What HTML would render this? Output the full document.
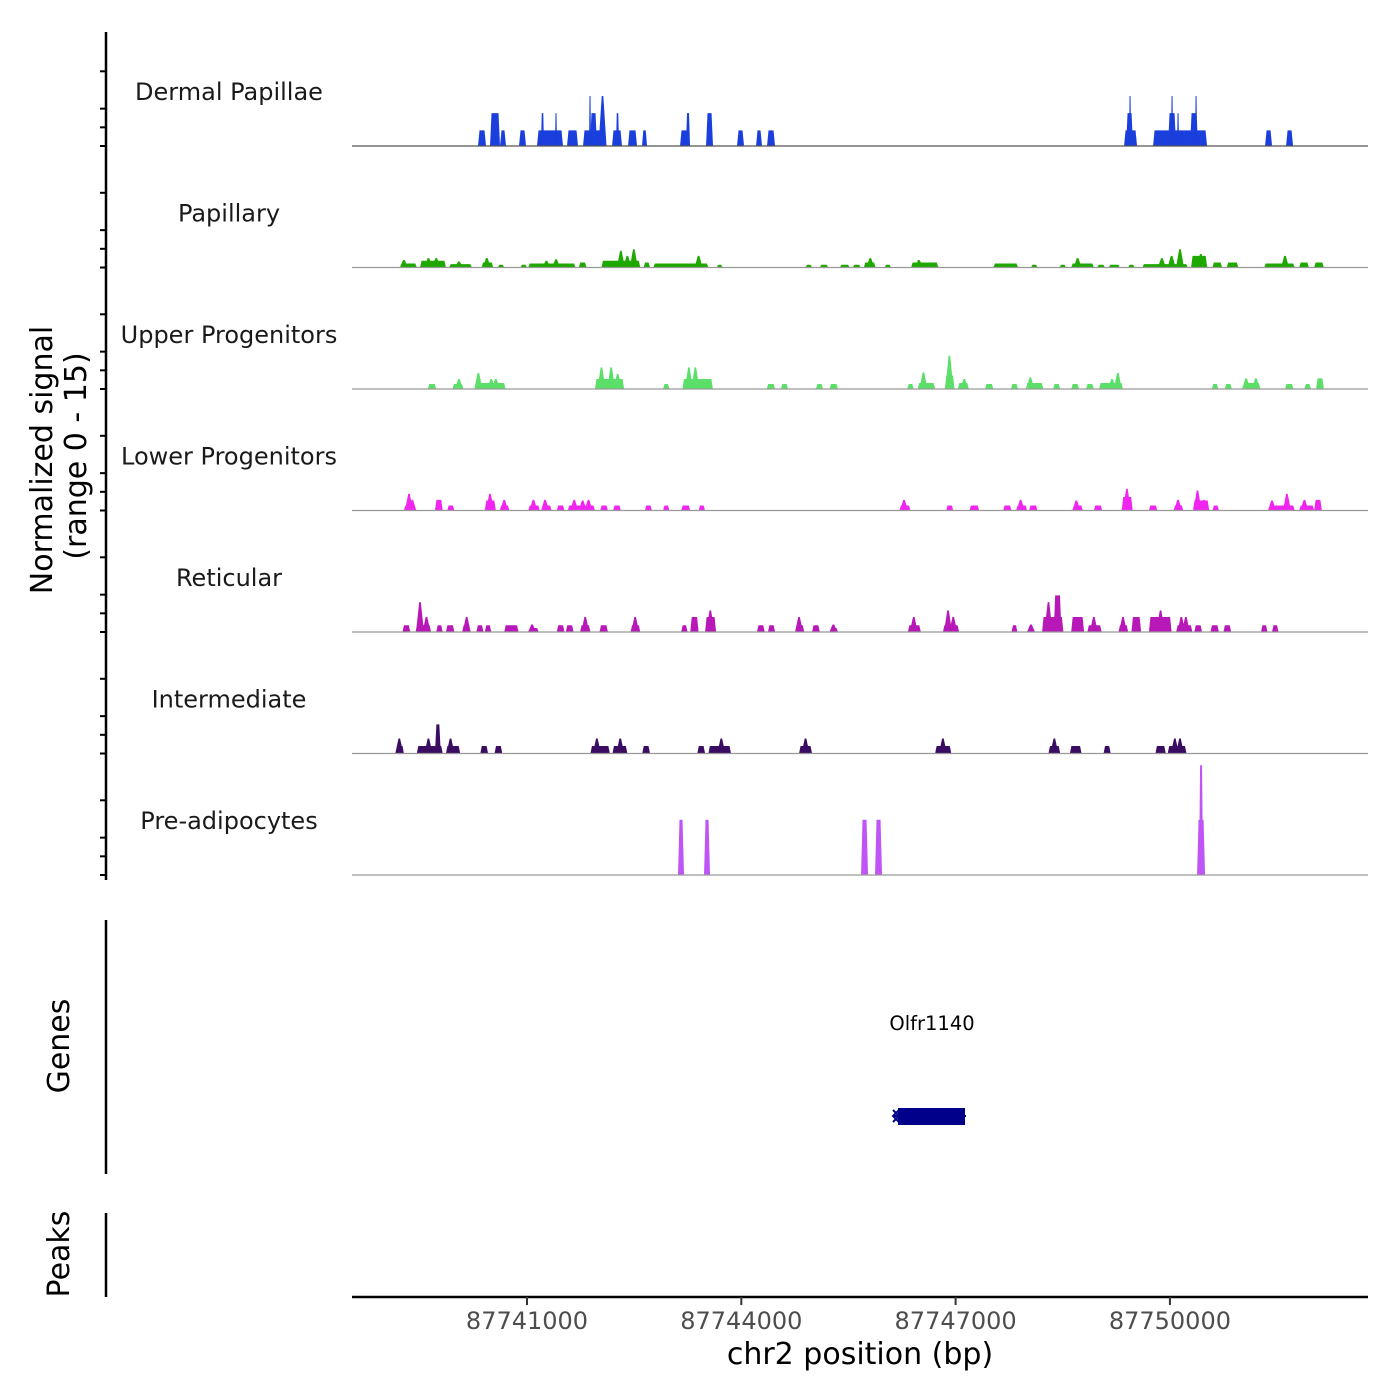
<!DOCTYPE html>
<html><head><meta charset="utf-8"><style>
body{margin:0;background:#fff;}
svg{display:block;font-family:"DejaVu Sans","Liberation Sans",sans-serif;}
</style></head><body>
<svg id="chart" width="1400" height="1400" viewBox="0 0 1400 1400">
<rect width="1400" height="1400" fill="#fff"/>
<g id="tracks"></g>
<g id="axes">
 <line x1="106" y1="32" x2="106" y2="880" stroke="#000" stroke-width="2.5"/>
 <line x1="106" y1="920" x2="106" y2="1174" stroke="#000" stroke-width="2.5"/>
 <line x1="106" y1="1213" x2="106" y2="1297" stroke="#000" stroke-width="2.5"/>
 <line x1="352" y1="1297" x2="1368" y2="1297" stroke="#000" stroke-width="2.5"/>
 <text transform="translate(52,460) rotate(-90)" text-anchor="middle" font-size="30" fill="#000">Normalized signal</text>
 <text transform="translate(86,456) rotate(-90)" text-anchor="middle" font-size="30" fill="#000">(range 0 - 15)</text>
 <text transform="translate(69,1046) rotate(-90)" text-anchor="middle" font-size="30" fill="#000">Genes</text>
 <text transform="translate(69,1254) rotate(-90)" text-anchor="middle" font-size="30" fill="#000">Peaks</text>
 <text x="860" y="1364" text-anchor="middle" font-size="30" fill="#000">chr2 position (bp)</text>
</g>
<g id="gene">
 <text x="932" y="1030" text-anchor="middle" font-size="19.5" fill="#000">Olfr1140</text>
 <line x1="893" y1="1116" x2="966" y2="1116" stroke="#00008b" stroke-width="2"/>
 <rect x="898" y="1108" width="67" height="17" fill="#00008b"/>
 <path d="M899,1110 L893,1116 L899,1122 M893,1110 L899,1116 L893,1122" fill="none" stroke="#00008b" stroke-width="2"/>
</g>
</svg>
<script>
const regionStart = 87738550;
const regionEnd = 87752773;
const xTicks = [87741000, 87744000, 87747000, 87750000];
const trackNames = ["Dermal Papillae","Papillary","Upper Progenitors","Lower Progenitors","Reticular","Intermediate","Pre-adipocytes"];
const trackColors = ["#1a3fdc","#1ea800","#5bdf69","#f026f0","#b718b7","#3a0c62","#bf55f6"];

// Dermal Papillae
const dpStart = [87740314,87740482,87740622,87740888,87741140,87741196,87741392,87741560,87741784,87741882,87741868,87742022,87742190,87742246,87742414,87742610,87743142,87743226,87743506,87743940,87744206,87744360,87749358,87749386,87749428,87749764,87749974,87750016,87750100,87750282,87750352,87751332,87751626];
const dpEnd   = [87740426,87740622,87740706,87740986,87741504,87741238,87741420,87741714,87742106,87741980,87741896,87742092,87742330,87742288,87742540,87742680,87743282,87743282,87743604,87744038,87744290,87744472,87749540,87749484,87749456,87750520,87750086,87750044,87750128,87750394,87750380,87751430,87751724];
const dpVal   = [2.1,4.4,2.1,2.1,2.1,4.4,4.4,2.1,2.1,4.4,6.7,4.4,2.1,4.4,2.1,2.1,2.1,4.4,4.4,2.1,2.1,2.1,2.1,4.4,6.7,2.1,4.4,6.7,4.4,4.4,6.7,2.1,2.1];
const dpSpikePos = [87742057];
const dpSpikeVal = [6.7];

// Papillary
const paStart = [87739230,87739502,87739910,87740364,87740591,87740908,87741017,87741725,87742042,87742632,87742768,87743656,87744899,87745099,87745380,87745561,87745715,87746006,87746377,87747529,87748055,87748454,87748618,87748981,87749144,87749416,87749615,87750296,87750595,87750795,87751320,87751810,87752019];
const paEnd   = [87739457,87739865,87740228,87740527,87740681,87740999,87741679,87741833,87742586,87742722,87743539,87743738,87744990,87745216,87745516,87745670,87745879,87746096,87746758,87747874,87748146,87748545,87748935,87749089,87749298,87749507,87750250,87750522,87750731,87750958,87751747,87751946,87752155];
const paVal   = [0.54,0.9,0.45,0.67,0.36,0.36,0.54,0.67,0.9,0.67,0.54,0.36,0.36,0.36,0.36,0.36,0.67,0.36,0.67,0.54,0.36,0.36,0.54,0.36,0.36,0.36,0.45,1.56,0.67,0.67,0.54,0.67,0.67];
const paSpikePos = [87739276,87739620,87739729,87740047,87740437,87741271,87741407,87742314,87742405,87742495,87743402,87745806,87746486,87748708,87749888,87750024,87750141,87750432,87751611];
const paSpikeVal = [1.0,1.25,1.25,0.8,1.25,0.9,1.1,2.23,1.56,2.45,1.56,1.25,1.0,1.25,1.25,1.56,2.45,1.8,1.56];

// Upper Progenitors
const upStart = [87739611,87739956,87740301,87741951,87742904,87743176,87744355,87744554,87745044,87745235,87746323,87746468,87746849,87747030,87747411,87747774,87747983,87748364,87748618,87748826,87749008,87750586,87750767,87751021,87751611,87751883,87752046];
const upEnd   = [87739729,87740110,87740700,87742359,87742994,87743602,87744473,87744654,87745144,87745353,87746414,87746713,87746985,87747185,87747529,87747874,87748228,87748464,87748727,87748935,87749343,87750677,87750867,87751266,87751729,87751974,87752155];
const upVal   = [0.67,0.67,0.8,1.34,0.67,1.34,0.67,0.67,0.67,0.67,0.67,0.8,1.8,0.8,0.67,0.67,0.8,0.67,0.67,0.67,0.8,0.67,0.67,0.8,0.67,0.67,1.43];
const upSpikePos = [87740047,87740319,87740500,87740564,87742042,87742178,87742269,87743266,87743357,87743493,87746550,87746913,87747121,87748046,87749189,87749271,87751067,87751203];
const upSpikeVal = [1.34,2.14,1.34,1.34,2.9,2.9,2.0,2.9,2.9,1.34,2.23,4.46,1.34,1.56,1.34,2.14,1.43,1.43];

// Lower Progenitors
const loStart = [87739276,87739711,87739883,87740409,87740618,87741017,87741198,87741416,87741570,87742024,87742205,87742650,87742904,87743158,87743402,87746214,87746867,87747194,87747665,87747847,87748028,87748636,87748935,87749325,87749706,87750051,87750323,87750595,87751384,87751810,87752019];
const loEnd   = [87739439,87739820,87739983,87740564,87740754,87741180,87741344,87741525,87741951,87742133,87742314,87742749,87742994,87743285,87743493,87746368,87746967,87747330,87747783,87748001,87748146,87748781,87749053,87749479,87749824,87750187,87750550,87750686,87751747,87752019,87752127];
const loVal   = [0.67,1.43,0.67,1.34,0.67,0.67,0.67,0.67,0.67,0.67,0.67,0.67,0.67,0.67,0.67,0.67,0.67,0.67,0.67,0.67,0.67,0.67,0.67,1.8,0.67,0.67,1.34,0.67,0.67,0.67,1.43];
const loSpikePos = [87739348,87739394,87740482,87740681,87741090,87741253,87741661,87741779,87741861,87746278,87747910,87748690,87749398,87750114,87750386,87750477,87751429,87751638,87751883];
const loSpikeVal = [2.23,1.43,2.23,1.43,1.43,1.43,1.43,1.34,1.43,1.43,1.43,1.34,2.9,1.43,2.68,1.43,1.34,2.23,1.43];

// Reticular
const reStart = [87739257,87739439,87739729,87739865,87740092,87740291,87740409,87740681,87741026,87741416,87741543,87741743,87742015,87742450,87743158,87743285,87743493,87744219,87744373,87744763,87744990,87745244,87746332,87746822,87747783,87748010,87748210,87748373,87748618,87748844,87749280,87749461,87749706,87750087,87750341,87750568,87750749,87751275,87751429];
const reEnd   = [87739366,87739657,87739820,87739983,87740210,87740391,87740500,87740881,87741162,87741525,87741652,87741888,87742133,87742586,87743248,87743402,87743647,87744328,87744473,87744881,87745099,87745353,87746513,87747049,87747865,87748101,87748509,87748482,87748799,87749044,87749416,87749597,87750024,87750314,87750450,87750686,87750858,87751366,87751520];
const reVal   = [0.9,0.9,0.9,0.9,0.9,0.9,0.9,0.9,0.54,0.9,0.9,0.9,0.9,0.9,0.9,2.0,2.0,0.9,0.9,0.9,0.9,0.54,0.9,0.9,0.9,0.54,2.0,4.9,2.0,0.9,0.9,2.0,2.0,0.9,0.9,0.9,0.9,0.9,0.9];
const reSpikePos = [87739502,87739593,87740155,87741071,87741815,87742514,87743566,87744808,87745289,87746414,87746894,87746967,87748055,87748300,87748935,87749343,87749869,87750160,87750223];
const reSpikeVal = [4.0,2.0,2.0,1.0,2.0,2.0,2.9,2.0,1.0,2.0,2.9,2.0,1.0,4.0,2.0,2.0,2.9,2.0,2.0];

// Intermediate
const inStart = [87739203,87739457,87739711,87739865,87740346,87740545,87741888,87742196,87742613,87743384,87743539,87744808,87746713,87748300,87748600,87749071,87749797,87749969];
const inEnd   = [87739276,87739820,87739793,87740065,87740455,87740654,87742160,87742405,87742722,87743493,87743856,87744990,87746940,87748464,87748763,87749171,87749942,87750232];
const inVal   = [1.0,1.0,3.9,1.0,1.0,1.0,1.0,1.0,1.0,1.0,1.0,1.0,1.0,1.0,1.0,1.0,1.0,1.0];
const inSpikePos = [87739212,87739620,87739929,87741978,87742305,87743720,87744899,87746822,87748382,87748682,87750069,87750141];
const inSpikeVal = [2.0,2.0,2.0,2.0,2.0,2.0,2.0,2.0,2.0,1.0,2.0,2.0];

// Pre-adipocytes
const prStart = [87743114,87743478,87745676,87745872,87750380,87750408];
const prEnd   = [87743198,87743562,87745774,87745970,87750492,87750464];
const prVal   = [7.4,7.4,7.4,7.4,7.4,14.7];
const prSpikePos = [];
const prSpikeVal = [];

const trackStarts = [dpStart,paStart,upStart,loStart,reStart,inStart,prStart];
const trackEnds = [dpEnd,paEnd,upEnd,loEnd,reEnd,inEnd,prEnd];
const trackVals = [dpVal,paVal,upVal,loVal,reVal,inVal,prVal];
const trackSpikePos = [dpSpikePos,paSpikePos,upSpikePos,loSpikePos,reSpikePos,inSpikePos,prSpikePos];
const trackSpikeVal = [dpSpikeVal,paSpikeVal,upSpikeVal,loSpikeVal,reSpikeVal,inSpikeVal,prSpikeVal];

const NS = "http://www.w3.org/2000/svg";
const plotL = 352, plotR = 1368;
const firstBase = 146, trackH = 121.5, pxPerUnit = 7.47;
function xScale(bp){ return plotL + (bp - regionStart) / (regionEnd - regionStart) * (plotR - plotL); }
function yScale(v, t){ return firstBase + t * trackH - v * pxPerUnit; }
function mk(tag, attrs, parent){ const e = document.createElementNS(NS, tag); for (const k in attrs) e.setAttribute(k, attrs[k]); parent.appendChild(e); return e; }

const tracksG = document.getElementById('tracks');
const axesG = document.getElementById('axes');

for (let t = 0; t < trackNames.length; t++) {
  const g = mk('g', {}, tracksG);
  
  
  const base = yScale(0, t);
  const col = trackColors[t];
  const st = trackStarts[t], en = trackEnds[t], vl = trackVals[t];
  for (let i = 0; i < st.length; i++) {
    const x0 = xScale(st[i]), x1 = xScale(en[i]), y = yScale(vl[i], t);
    const sl = Math.min(1.5, (x1 - x0) / 4);
    const p = mk('path', {d: `M${x0},${base} L${x0 + sl},${y} L${x1 - sl},${y} L${x1},${base} Z`, fill: col}, g);
    
    
  }
  const sp = trackSpikePos[t], sv = trackSpikeVal[t];
  for (let i = 0; i < sp.length; i++) {
    const xc = xScale(sp[i]), y = yScale(sv[i], t);
    const p = mk('path', {d: `M${xc - 4},${base} L${xc - 0.8},${y} L${xc + 0.8},${y} L${xc + 4},${base} Z`, fill: col}, g);
    
    
  }
  const bl = mk('line', {x1: plotL, x2: plotR, y1: base, y2: base, stroke: t === 0 ? '#555' : '#999', 'stroke-width': 1.2}, g);
  
  
  const lab = mk('text', {x: 229, y: base - 46, 'text-anchor': 'middle', 'font-size': 24, fill: '#1a1a1a'}, g);
  lab.textContent = trackNames[t];
  
  
  for (const v of [0, 2.5, 5, 10]) {
    const ty = yScale(v, t);
    const tk = mk('line', {x1: 100, x2: 106, y1: ty, y2: ty, stroke: '#000', 'stroke-width': 2}, axesG);
    
    
  }
}
for (const bp of xTicks) {
  const x = xScale(bp);
  const tk = mk('line', {x1: x, x2: x, y1: 1297, y2: 1305, stroke: '#333', 'stroke-width': 2}, axesG);
  
  
  const tl = mk('text', {x: x, y: 1329, 'text-anchor': 'middle', 'font-size': 24, fill: '#4d4d4d'}, axesG);
  tl.textContent = bp;
  
  
}
</script>
</body></html>
